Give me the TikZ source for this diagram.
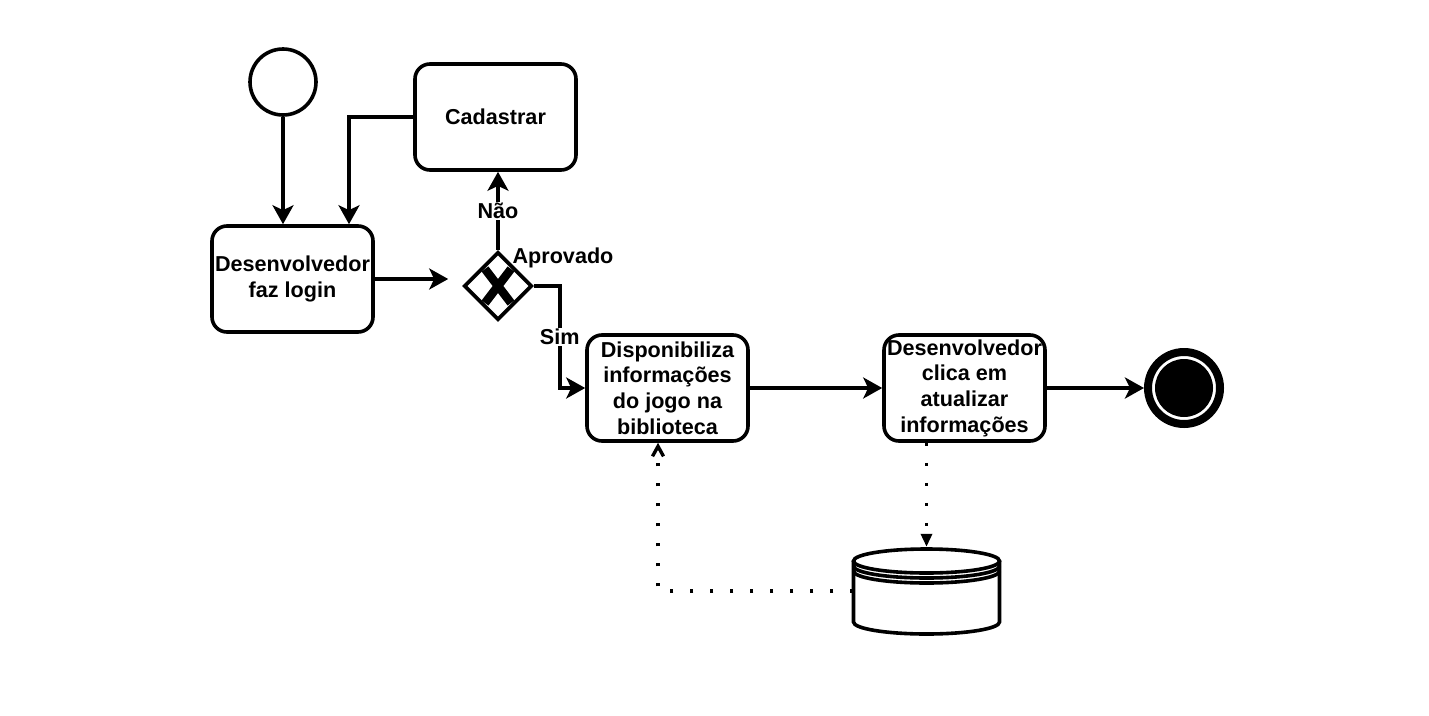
\documentclass[tikz,border=0pt]{standalone}
\usepackage{fontspec}
\setmainfont{Liberation Sans}
\usetikzlibrary{arrows.meta,shapes.geometric}
\begin{document}
\begin{tikzpicture}[x=1pt,y=-1pt,
  every node/.style={font=\fontsize{21.6}{25.7}\selectfont\bfseries},
  task/.style={draw, line width=3.6pt, rounded corners=15pt, minimum width=161pt, minimum height=106pt, align=center, inner sep=0pt, fill=white},
  gate/.style={draw, diamond, line width=3.6pt, minimum width=68pt, minimum height=68pt, inner sep=0pt, fill=white},
  flow/.style={line width=3.4pt, -{Stealth[length=19pt,width=21pt,inset=5pt]}},
  assoc/.style={line width=3.4pt, dash pattern=on 3.4pt off 16.6pt},
  lbl/.style={fill=white, inner sep=1pt},
  dbline/.style={line width=3.6pt},
]
\fill[white] (0,0) rectangle (1429,715);
\useasboundingbox (0,0) rectangle (1429,715);

% events
\node[draw, circle, line width=3.6pt, minimum size=66pt, inner sep=0pt] (start) at (283,82) {};
\node[draw, circle, line width=8pt, minimum size=72pt, inner sep=0pt] (end) at (1184,388) {};
\fill (end.center) circle (29pt);

% tasks
\node[task] (cad) at (495.5,117) {Cadastrar};
\node[task] (login) at (292.5,279) {Desenvolvedor\\faz login};
\node[task] (disp) at (667.5,388) {Disponibiliza\\informações\\do jogo na\\biblioteca};
\node[task] (upd) at (964.5,388) {Desenvolvedor\\clica em\\atualizar\\informações};

% gateway
\node[gate] (gw) at (498,286) {};
\draw[line width=8.5pt] ([shift={(-13,-17)}]gw.center) -- ([shift={(13,17)}]gw.center);
\draw[line width=8.5pt] ([shift={(13,-17)}]gw.center) -- ([shift={(-13,17)}]gw.center);
\node (aprov) at (563,258) {Aprovado};

% data store
\node[minimum width=146pt, minimum height=88pt, inner sep=0pt] (db) at (926.5,591) {};
\begin{scope}[shift={(db.center)}]
  \filldraw[fill=white, dbline] (-73,-30) -- (-73,31) arc[start angle=180,end angle=360,x radius=73pt,y radius=12pt] -- (73,-30);
  \draw[dbline, fill=white] (0,-30) ellipse [x radius=73pt, y radius=12pt];
  \draw[dbline] (-73,-25) arc[start angle=180,end angle=360,x radius=73pt,y radius=12pt];
  \draw[dbline] (-73,-20) arc[start angle=180,end angle=360,x radius=73pt,y radius=12pt];
\end{scope}

% sequence flows
\draw[flow] (start.south) -- (start.south |- login.north);
\draw[flow] (cad.west) -| ([xshift=56.5pt]login.north);
\draw[flow] (login.east) -- ([xshift=-14pt]gw.west |- login.east);
\draw[flow] (gw.north) -- node[lbl]{Não} (cad.south -| gw.north);
\coordinate (sbend) at ([xshift=26pt]gw.east);
\draw[flow] (gw.east) -- (sbend) |- node[lbl,pos=0.25]{Sim} (disp.west);
\draw[flow] (disp.east) -- (upd.west);
\draw[flow] (upd.east) -- (end.west);

% data associations
\draw[assoc, -{Triangle[length=13pt,width=11pt]}] (db.north |- upd.south) -- (db.north);
\draw[assoc, -{Straight Barb[length=10pt,width=11pt]}] (db.west) -| ([xshift=-9.5pt]disp.south);
\end{tikzpicture}
\end{document}
